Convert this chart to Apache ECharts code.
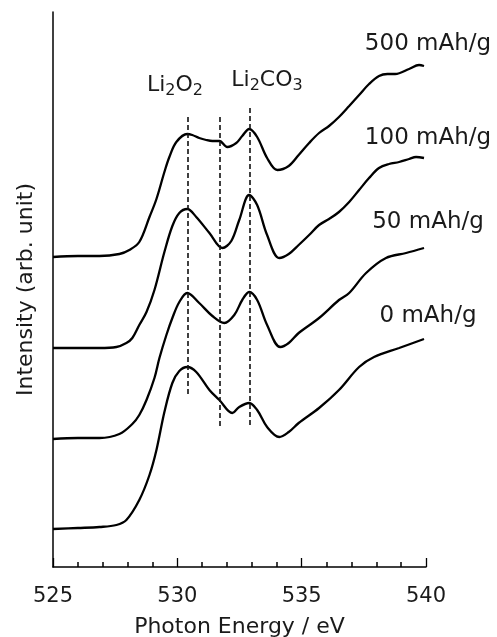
<!DOCTYPE html>
<html>
<head>
<meta charset="utf-8">
<script src="https://cdn.jsdelivr.net/npm/echarts@6/dist/echarts.min.js"></script>
<style>
  html, body { margin: 0; padding: 0; background: #fff; }
  #chart { width: 497px; height: 637px; }
</style>
</head>
<body>
<div id="chart"></div>
<script>
var FONT = 'DejaVu Sans';
var TEXT_COLOR = '#1a1a1a';

// O K-edge spectra, [photon energy (eV), intensity (arb.)], stacked by capacity
var spec0 = [
  [525.00, 0.38], [526.00, 0.39], [526.87, 0.40], [527.55, 0.42], [527.95, 0.47],
  [528.47, 0.67], [528.88, 0.92], [529.16, 1.17], [529.48, 1.55], [529.80, 1.84],
  [530.08, 1.96], [530.40, 2.00], [530.76, 1.95], [531.29, 1.77], [531.69, 1.67],
  [532.21, 1.54], [532.49, 1.60], [532.89, 1.64], [533.21, 1.57], [533.61, 1.40],
  [534.10, 1.30], [534.48, 1.35], [534.88, 1.44], [535.70, 1.59], [536.50, 1.77],
  [537.31, 2.00], [537.91, 2.10], [538.92, 2.19], [539.92, 2.28]
];
var spec50 = [
  [525.00, 1.28], [526.00, 1.29], [526.87, 1.29], [527.67, 1.33], [528.19, 1.43],
  [528.47, 1.52], [528.76, 1.67], [529.08, 1.89], [529.28, 2.09], [529.56, 2.32],
  [529.80, 2.49], [530.08, 2.65], [530.40, 2.74], [530.88, 2.64], [531.41, 2.51],
  [531.89, 2.44], [532.29, 2.52], [532.61, 2.67], [532.89, 2.75], [533.21, 2.67],
  [533.61, 2.42], [534.14, 2.20], [534.48, 2.24], [534.88, 2.34], [535.70, 2.49],
  [536.50, 2.67], [536.91, 2.74], [537.59, 2.94], [538.39, 3.09], [539.20, 3.14],
  [539.92, 3.19]
];
var spec100 = [
  [525.00, 2.19], [526.00, 2.19], [526.87, 2.19], [527.55, 2.20], [527.95, 2.24],
  [528.19, 2.29], [528.47, 2.42], [528.76, 2.55], [529.08, 2.77], [529.48, 3.15],
  [529.80, 3.41], [530.08, 3.54], [530.40, 3.58], [530.76, 3.50], [531.29, 3.34],
  [531.81, 3.19], [532.17, 3.26], [532.49, 3.47], [532.89, 3.72], [533.21, 3.62],
  [533.61, 3.32], [534.10, 3.09], [534.48, 3.13], [534.88, 3.22], [535.30, 3.32],
  [535.70, 3.42], [536.10, 3.48], [536.50, 3.55], [536.91, 3.65], [537.31, 3.77],
  [537.71, 3.89], [538.11, 3.99], [538.51, 4.03], [538.92, 4.05], [539.32, 4.08],
  [539.60, 4.10], [539.92, 4.09]
];
var spec500 = [
  [525.00, 3.10], [526.00, 3.11], [526.87, 3.11], [527.67, 3.13], [528.07, 3.17],
  [528.47, 3.25], [528.88, 3.50], [529.16, 3.68], [529.48, 3.95], [529.68, 4.10],
  [529.96, 4.25], [530.40, 4.33], [530.60, 4.32], [530.88, 4.29], [531.16, 4.27],
  [531.41, 4.26], [531.69, 4.26], [532.01, 4.20], [532.37, 4.24], [532.61, 4.31],
  [532.89, 4.38], [533.21, 4.30], [533.61, 4.09], [534.02, 3.97], [534.48, 4.01],
  [534.88, 4.12], [535.30, 4.24], [535.70, 4.34], [536.10, 4.41], [536.50, 4.50],
  [536.91, 4.61], [537.31, 4.72], [537.71, 4.83], [538.11, 4.91], [538.45, 4.93],
  [538.76, 4.93], [539.32, 4.98], [539.72, 5.02], [539.92, 5.01]
];

var capacityLabels = ['0 mAh/g', '50 mAh/g', '100 mAh/g', '500 mAh/g'];

// reference peak positions (dashed lines)
var refEnergy = [530.4, 531.7, 532.9];
var refTop = [4.50, 4.50, 4.59];
var refBottom = [1.72, 1.40, 1.40];

var xTicks = [525, 530, 535, 540];

var chart = echarts.init(document.getElementById('chart'));

function spectrum(name, data) {
  return {
    name: name,
    type: 'line',
    data: data,
    showSymbol: false,
    smooth: 0.35,
    silent: true,
    lineStyle: { color: '#000', width: 2.3 }
  };
}

var series = [
  spectrum(capacityLabels[0], spec0),
  spectrum(capacityLabels[1], spec50),
  spectrum(capacityLabels[2], spec100),
  spectrum(capacityLabels[3], spec500)
];

series[0].markLine = {
  silent: true,
  symbol: ['none', 'none'],
  label: { show: false },
  lineStyle: { color: '#111', width: 1.6, type: [5, 3] },
  data: refEnergy.map(function(e, i) {
    return [{ coord: [e, refTop[i]] }, { coord: [e, refBottom[i]] }];
  })
};

// label placement (px)
var labelY = [316, 222, 138, 44];

function plainText(txt, x, y) {
  return {
    type: 'text', x: x, y: y, silent: true,
    style: {
      text: txt, fill: TEXT_COLOR, font: '23px "' + FONT + '"',
      textAlign: 'center', textVerticalAlign: 'middle',
      align: 'center', verticalAlign: 'middle'
    }
  };
}

function formulaText(txt, x, y) {
  return {
    type: 'text', x: x, y: y, silent: true,
    style: {
      text: txt, fill: TEXT_COLOR,
      textAlign: 'center', textVerticalAlign: 'middle',
      align: 'center', verticalAlign: 'middle',
      rich: {
        n: { fontSize: 22, fontFamily: FONT, fill: TEXT_COLOR },
        s: { fontSize: 16, fontFamily: FONT, fill: TEXT_COLOR, padding: [12, 0, 0, 0] }
      }
    }
  };
}

var graphics = capacityLabels.map(function(t, i) {
  return plainText(t, 428, labelY[i]);
});
graphics.push(formulaText('{n|Li}{s|2}{n|O}{s|2}', 175, 85));
graphics.push(formulaText('{n|Li}{s|2}{n|CO}{s|3}', 267, 80));

chart.setOption({
  animation: false,
  backgroundColor: '#fff',
  grid: { left: 53, right: 71, top: 12, bottom: 70, containLabel: false, outerBoundsMode: 'none' },
  xAxis: {
    type: 'value',
    min: xTicks[0],
    max: xTicks[xTicks.length - 1],
    interval: 5,
    name: 'Photon Energy / eV',
    nameLocation: 'middle',
    nameGap: 49,
    nameTextStyle: { fontFamily: FONT, fontSize: 22, color: TEXT_COLOR },
    axisLine: { lineStyle: { color: '#000', width: 1.5 } },
    axisTick: { inside: true, length: 9, lineStyle: { color: '#000', width: 1.3 } },
    minorTick: { show: true, splitNumber: 5, length: 5, lineStyle: { color: '#000', width: 1.5 } },
    axisLabel: { fontFamily: FONT, fontSize: 21, color: TEXT_COLOR, margin: 19 },
    splitLine: { show: false }
  },
  yAxis: {
    type: 'value',
    min: 0,
    max: 5.55,
    name: 'Intensity (arb. unit)',
    nameLocation: 'middle',
    nameRotate: 90,
    nameGap: 16,
    nameTextStyle: { fontFamily: FONT, fontSize: 22, color: TEXT_COLOR },
    axisLine: { show: true, lineStyle: { color: '#000', width: 1.5 } },
    axisTick: { show: false },
    axisLabel: { show: false },
    splitLine: { show: false }
  },
  series: series,
  graphic: graphics
});
</script>
</body>
</html>
